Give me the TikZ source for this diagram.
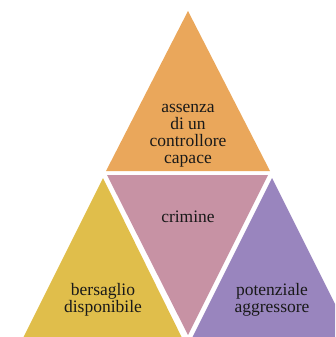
\documentclass[tikz,border=0pt]{standalone}
\usepackage{fontspec}
\setmainfont{Liberation Serif}
\usepackage{tikz}
\definecolor{sandybrown}{HTML}{EAA75B}
\definecolor{dustyrose}{HTML}{C792A4}
\definecolor{mustard}{HTML}{E0BE4B}
\definecolor{lavender}{HTML}{9985BE}

\begin{document}
\begin{tikzpicture}[x=1pt,y=-1pt,
		every node/.style={align=center,text=black!90,font=\fontsize{17.5}{17}\selectfont}]
		\useasboundingbox (0,0) rectangle (335,337);
		\clip (0,0) rectangle (335,337);
		\fill[sandybrown] (188,11) -- (270,171) -- (106,171) -- cycle;
		\fill[dustyrose] (107,175) -- (268,175) -- (188,335) -- cycle;
		\fill[mustard] (103,178) -- (188,350) -- (17,350) -- cycle;
		\fill[lavender] (272,178) -- (358,350) -- (186,350) -- cycle;
		\node (controllore) at (188,136) {assenza\\di un\\controllore\\capace};
		\node (crimine) at (188,217) {crimine};
		\node (bersaglio) at (103,300) {bersaglio\\disponibile};
		\node (aggressore) at (272,300) {potenziale\\aggressore};
	\end{tikzpicture}
\end{document}
